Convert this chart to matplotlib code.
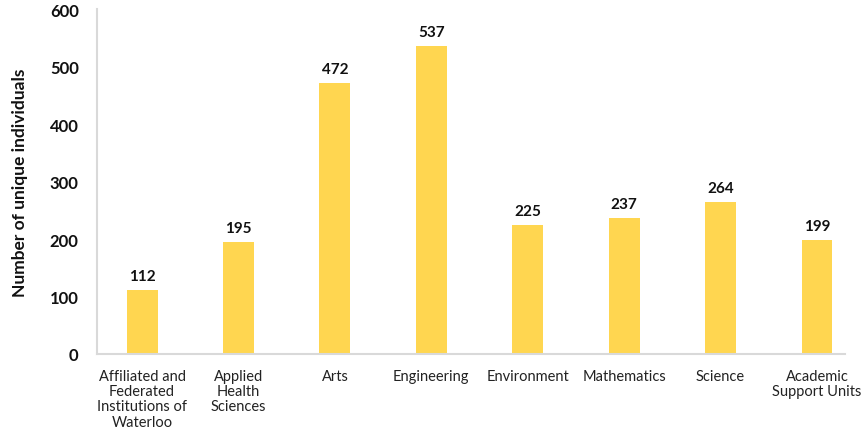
import numpy as np
import matplotlib.pyplot as plt

plt.rcParams['font.family'] = ['Lato', 'DejaVu Sans']

categories = ["Affiliated and\nFederated\nInstitutions of\nWaterloo", "Applied\nHealth\nSciences",
              "Arts", "Engineering", "Environment", "Mathematics", "Science",
              "Academic\nSupport Units"]
counts = [112, 195, 472, 537, 225, 237, 264, 199]
yticks = [0, 100, 200, 300, 400, 500, 600]

fig = plt.figure(figsize=(8.64, 4.35), dpi=100)
ax = fig.add_axes([0.112, 0.184, 0.866, 0.792])

x = np.arange(len(categories))
bars = ax.bar(x, counts, width=0.32, color='#FFD650')

for b, v in zip(bars, counts):
    ax.text(b.get_x() + b.get_width() / 2, v + 12, str(v), ha='center', va='bottom',
            fontsize=11, fontweight='bold', color='#111111')

ax.set_xlim(-0.47, 7.29)
ax.set_ylim(0, 600)
ax.set_yticks(yticks)
ax.set_yticklabels([str(t) for t in yticks], fontsize=12, fontweight='bold', color='#111111')
ax.set_xticks(x)
ax.set_xticklabels(categories, fontsize=10.5, color='#222222', linespacing=1.1, va='top')
ax.tick_params(axis='both', length=0)
ax.tick_params(axis='x', pad=11)
ax.tick_params(axis='y', pad=13)

ax.set_ylabel("Number of unique individuals", fontsize=12.5, fontweight='bold', color='#111111', labelpad=16)

for s in ['top', 'right']:
    ax.spines[s].set_visible(False)
for s in ['left', 'bottom']:
    ax.spines[s].set_color('#d9d9d9')
    ax.spines[s].set_linewidth(1.5)

plt.savefig('out.png', dpi=100)
